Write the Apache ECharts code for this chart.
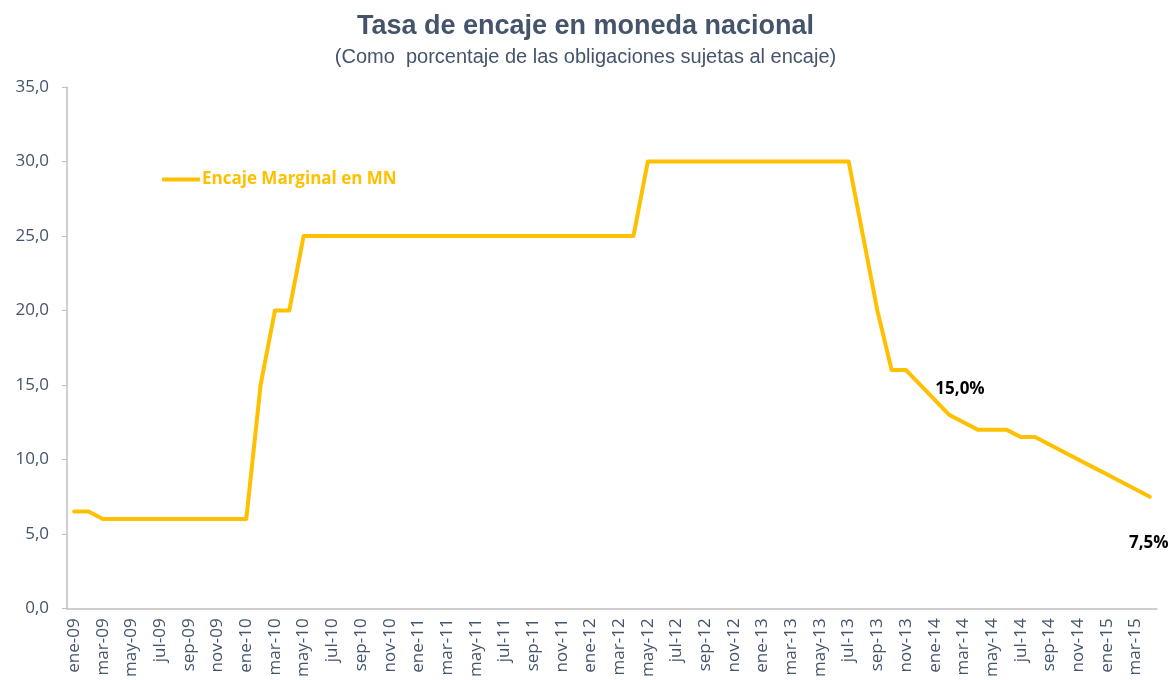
<!DOCTYPE html>
<html>
<head>
<meta charset="utf-8">
<script src="https://cdn.jsdelivr.net/npm/echarts@6/dist/echarts.min.js"></script>
<style>
  html, body { margin: 0; padding: 0; background: #fff; }
  #chart { width: 1171px; height: 680px; }
</style>
</head>
<body>
<div id="chart"></div>
<script>
// meses ene-09 ... abr-15
var meses = ['ene', 'feb', 'mar', 'abr', 'may', 'jun', 'jul', 'ago', 'sep', 'oct', 'nov', 'dic'];
var anios = ['09', '10', '11', '12', '13', '14', '15'];
var categorias = [];
anios.forEach(function (a) {
    meses.forEach(function (m) {
        if (categorias.length < 76) categorias.push(m + '-' + a);
    });
});

// Encaje marginal en MN (%)
var encaje2009 = [6.5, 6.5, 6.0, 6.0, 6.0, 6.0, 6.0, 6.0, 6.0, 6.0, 6.0, 6.0];
var encaje2010 = [6.0, 15.0, 20.0, 20.0, 25.0, 25.0, 25.0, 25.0, 25.0, 25.0, 25.0, 25.0];
var encaje2011 = [25.0, 25.0, 25.0, 25.0, 25.0, 25.0, 25.0, 25.0, 25.0, 25.0, 25.0, 25.0];
var encaje2012 = [25.0, 25.0, 25.0, 25.0, 30.0, 30.0, 30.0, 30.0, 30.0, 30.0, 30.0, 30.0];
var encaje2013 = [30.0, 30.0, 30.0, 30.0, 30.0, 30.0, 30.0, 25.0, 20.0, 16.0, 16.0, 15.0];
var encaje2014 = [14.0, 13.0, 12.5, 12.0, 12.0, 12.0, 11.5, 11.5, 11.0, 10.5, 10.0, 9.5];
var encaje2015 = [9.0, 8.5, 8.0, 7.5];
var encaje = [].concat(encaje2009, encaje2010, encaje2011, encaje2012, encaje2013, encaje2014, encaje2015);

var yTicks = [0, 5, 10, 15, 20, 25, 30, 35];

var lblStyle = { show: true, color: '#000', fontWeight: 'bold', fontSize: 17, fontFamily: 'Open Sans' };
var serieData = encaje.map(function (v, i) {
    if (categorias[i] === 'dic-13') {
        return { value: v, label: Object.assign({ position: 'right', distance: 15, offset: [0, 4], formatter: '15,0%' }, lblStyle) };
    }
    if (i === encaje.length - 1) {
        return { value: v, label: Object.assign({ position: 'bottom', distance: 38, offset: [-1, 0], formatter: '7,5%' }, lblStyle) };
    }
    return v;
});

var myChart = echarts.init(document.getElementById('chart'));
myChart.setOption({
    backgroundColor: '#fff',
    animation: false,
    title: {
        text: 'Tasa de encaje en moneda nacional',
        subtext: '(Como  porcentaje de las obligaciones sujetas al encaje)',
        left: 'center',
        top: 8,
        itemGap: 7,
        textStyle: { fontFamily: 'Liberation Sans', fontSize: 27, fontWeight: 'bold', color: '#44546A' },
        subtextStyle: { fontFamily: 'Liberation Sans', fontSize: 20, color: '#44546A' }
    },
    legend: {
        left: 157,
        top: 166,
        itemWidth: 38,
        itemHeight: 4,
        itemGap: 4,
        icon: 'roundRect',
        textStyle: { color: '#FFC000', fontWeight: 'bold', fontSize: 17, fontFamily: 'Open Sans', padding: [0, 0, 0, -3] },
        data: ['Encaje Marginal en MN']
    },
    grid: { left: 67, right: 14, top: 87, bottom: 69, containLabel: false },
    xAxis: {
        type: 'category',
        data: categorias,
        boundaryGap: true,
        axisLine: { lineStyle: { color: '#BFBFBF', width: 1.5 } },
        axisTick: { interval: 1, length: 5, lineStyle: { color: '#BFBFBF' } },
        axisLabel: { interval: 1, rotate: 90, color: '#44546A', fontSize: 17, fontFamily: 'Open Sans', margin: 10 }
    },
    yAxis: {
        type: 'value',
        min: yTicks[0],
        max: yTicks[yTicks.length - 1],
        interval: 5,
        splitLine: { show: false },
        axisLine: { show: true, lineStyle: { color: '#BFBFBF', width: 1.5 } },
        axisTick: { show: true, length: 5, lineStyle: { color: '#BFBFBF' } },
        axisLabel: {
            color: '#44546A', fontSize: 17, fontFamily: 'Open Sans', margin: 18,
            formatter: function (v) { return v.toFixed(1).replace('.', ','); }
        }
    },
    series: [
        {
            name: 'Encaje Marginal en MN',
            type: 'line',
            data: serieData,
            symbol: 'circle',
            symbolSize: 0,
            showSymbol: true,
            color: '#FFC000',
            lineStyle: { width: 4, color: '#FFC000', join: 'round', cap: 'round' }
        }
    ]
});
</script>
</body>
</html>
